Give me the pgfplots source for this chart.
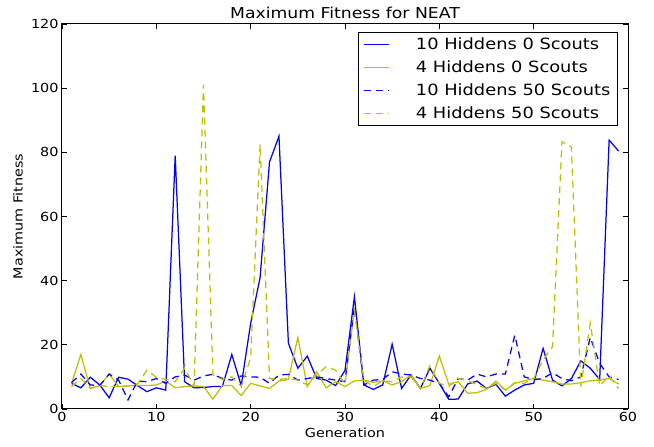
\documentclass[border=0pt]{standalone}
\usepackage{fontspec}
\setmainfont{DejaVu Sans}[FakeStretch=1.15]
\usepackage{pgfplots}
\pgfplotsset{compat=1.18}
\definecolor{mplblue}{RGB}{0,0,255}
\definecolor{mplyellow}{RGB}{191,191,0}
\begin{document}
\begin{tikzpicture}
\path[use as bounding box] (-62pt,-38pt) rectangle (592pt,409pt);
\begin{axis}[
  at={(0pt,0pt)}, anchor=south west,
  scale only axis, width=566pt, height=385pt,
  xmin=0, xmax=60, ymin=0, ymax=120,
  xtick={0,10,...,60}, ytick={0,20,...,120},
  tick align=inside, xtick pos=both, ytick pos=both,
  major tick length=5pt,
  axis line style={line width=1pt},
  tick style={black, line width=0.8pt},
  /pgf/number format/assume math mode=true,
  ticklabel style={font=\fontsize{12.5}{15}\selectfont},
  xlabel={Generation}, ylabel={Maximum Fitness},
  label style={font=\fontsize{12.5}{15}\selectfont},
  xlabel style={at={(axis description cs:0.5,-0.0623)}, anchor=center},
  ylabel style={at={(axis description cs:-0.0777,0.5)}, anchor=center},
  legend cell align=left,
  legend image code/.code={\draw[#1] (0pt,0pt) -- (25pt,0pt);},
  legend style={at={(rel axis cs:0.9823,0.9792)}, anchor=north east, draw=black, line width=1pt, fill=white,
    font=\fontsize{15.5}{18}\selectfont, inner xsep=5pt, inner ysep=3pt, row sep=5.8pt,
    /tikz/every odd column/.append style={column sep=24pt}},
  every axis plot/.append style={line width=1.25pt},
  clip=false,
]
\node[font=\fontsize{15}{18}\selectfont, anchor=base] at (rel axis cs:0.5,1.013) {Maximum Fitness for NEAT};
\addplot[mplblue, solid] coordinates {
(1,8) (2,6.6) (3,9.9) (4,7.5) (5,3.5) (6,9.9) (7,9.3) (8,7.3) (9,5.4) (10,6.6)
(11,5.9) (12,79) (13,8.5) (14,6.6) (15,6.7) (16,7) (17,7) (18,17) (19,7.3) (20,26.7)
(21,41) (22,77) (23,85) (24,20.5) (25,12.7) (26,16.5) (27,9.5) (28,9) (29,7.3) (30,12)
(31,35) (32,7.5) (33,6.1) (34,7.5) (35,20.2) (36,6.4) (37,10.6) (38,6.4) (39,12.7) (40,8)
(41,3) (42,3.1) (43,7.8) (44,8.7) (45,6.4) (46,7.7) (47,4) (48,5.9) (49,7.5) (50,8)
(51,18.9) (52,9) (53,7.2) (54,9.5) (55,15) (56,12.7) (57,9.2) (58,83.8) (59,80.4)};
\addlegendentry{10 Hiddens 0 Scouts}
\addplot[mplyellow, solid] coordinates {
(1,7.8) (2,17) (3,6.4) (4,7.3) (5,10.9) (6,7) (7,7.2) (8,7.3) (9,7.3) (10,7.5)
(11,8.7) (12,6.6) (13,7) (14,7.2) (15,7) (16,3.1) (17,7.3) (18,7.3) (19,4.2) (20,8)
(21,7.2) (22,6.4) (23,8.7) (24,9.2) (25,22.3) (26,7) (27,11.6) (28,6.6) (29,8.5) (30,7)
(31,8.8) (32,9) (33,8.3) (34,8.8) (35,7.5) (36,8.5) (37,10.6) (38,6.4) (39,7.3) (40,16.5)
(41,7.7) (42,8.5) (43,4.9) (44,5.1) (45,6.1) (46,8.7) (47,5.9) (48,8) (49,8.8) (50,9.5)
(51,9) (52,8.5) (53,7.8) (54,7.8) (55,8.2) (56,8.8) (57,9) (58,9.5) (59,7.8)};
\addlegendentry{4 Hiddens 0 Scouts}
\addplot[mplblue, dash pattern=on 7pt off 5pt] coordinates {
(1,8.2) (2,10.9) (3,7.5) (4,7.3) (5,10.9) (6,9) (7,2.8) (8,8.7) (9,8.5) (10,9.5)
(11,8) (12,10) (13,10.6) (14,9) (15,10.3) (16,10.8) (17,9.5) (18,9) (19,10.3) (20,10)
(21,9.9) (22,8) (23,10.6) (24,10.8) (25,9) (26,9.5) (27,10) (28,9.5) (29,9) (30,8.5)
(31,31.9) (32,7.5) (33,9) (34,9.2) (35,11.6) (36,10.9) (37,10.6) (38,9.5) (39,9) (40,8)
(41,3.8) (42,9.5) (43,9) (44,10.9) (45,10) (46,10.9) (47,10.9) (48,23) (49,10) (50,9.2)
(51,9.5) (52,11.3) (53,9.5) (54,8.8) (55,10) (56,22.3) (57,14.2) (58,10) (59,9.2)};
\addlegendentry{10 Hiddens 50 Scouts}
\addplot[mplyellow, dash pattern=on 7pt off 5pt] coordinates {
(1,7) (2,9.5) (3,6.4) (4,7.3) (5,7) (6,7) (7,7.2) (8,7.8) (9,12.1) (10,9.9)
(11,9.2) (12,8.5) (13,12.7) (14,7.2) (15,101) (16,10.6) (17,9.2) (18,10) (19,7) (20,16)
(21,82.5) (22,9.5) (23,9.2) (24,9.5) (25,9) (26,7.5) (27,10.6) (28,13.2) (29,12.1) (30,7.8)
(31,30.8) (32,9) (33,7) (34,8.8) (35,8.5) (36,10) (37,10) (38,6.4) (39,13.5) (40,8)
(41,7) (42,9.5) (43,9) (44,7.5) (45,6.4) (46,8) (47,5.9) (48,8.2) (49,8) (50,9.5)
(51,15.3) (52,19.4) (53,83.3) (54,81.7) (55,7) (56,26.7) (57,7.2) (58,10.3) (59,6.4)};
\addlegendentry{4 Hiddens 50 Scouts}
\end{axis}
\end{tikzpicture}
\end{document}
